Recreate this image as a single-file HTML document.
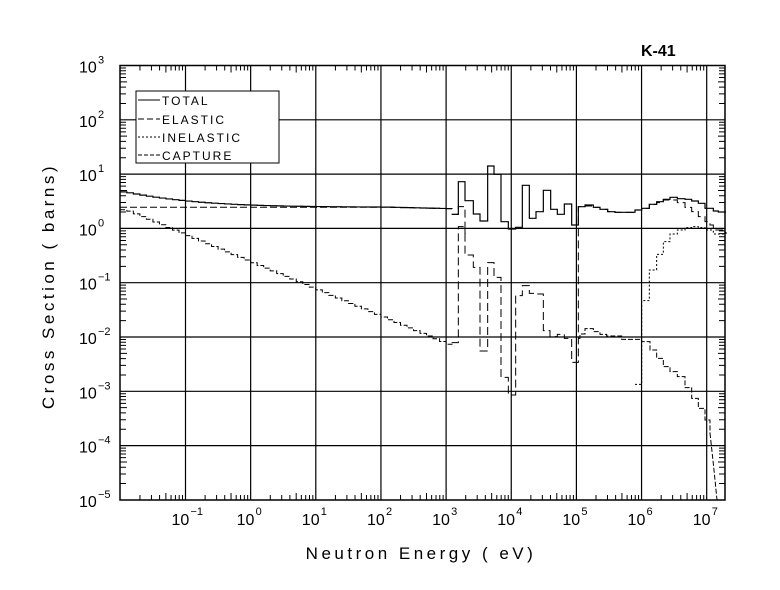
<!DOCTYPE html>
<html><head><meta charset="utf-8"><style>
html,body{margin:0;padding:0;background:#fff;}
svg{display:block;}
text{font-family:"Liberation Sans",sans-serif;fill:#000;}
</style></head><body>
<svg id="s" width="780" height="590" viewBox="0 0 780 590" xmlns="http://www.w3.org/2000/svg">
<rect width="780" height="590" fill="#fff"/>
<text x="641" y="56" font-size="16" font-weight="bold">K-41</text>
<text transform="translate(54 286) rotate(-90)" text-anchor="middle" font-size="17" letter-spacing="3.5" font-weight="300">Cross Section ( barns)</text>
<text x="421" y="559" text-anchor="middle" font-size="17" letter-spacing="3.5">Neutron Energy ( eV)</text>
<g id="g"></g>
<rect x="136" y="91" width="143" height="72" fill="#fff" stroke="#000" stroke-width="1"/>
<line x1="138" y1="100" x2="160" y2="100" stroke="#000"/>
<line x1="138" y1="119" x2="160" y2="119" stroke="#000" stroke-dasharray="6,3"/>
<line x1="138" y1="137" x2="160" y2="137" stroke="#000" stroke-dasharray="2,2"/>
<line x1="138" y1="155" x2="160" y2="155" stroke="#000" stroke-dasharray="4,2"/>
<text x="162" y="105" font-size="12" letter-spacing="2">TOTAL</text>
<text x="162" y="124" font-size="12" letter-spacing="2">ELASTIC</text>
<text x="162" y="142" font-size="12" letter-spacing="2">INELASTIC</text>
<text x="162" y="160" font-size="12" letter-spacing="2">CAPTURE</text>
</svg>
<script>
var NS="http://www.w3.org/2000/svg",g=document.getElementById('g');
function el(t,a,txt){var e=document.createElementNS(NS,t);for(var k in a)e.setAttribute(k,a[k]);if(txt!==undefined)e.textContent=txt;g.appendChild(e);return e;}
var L=120,R=725,T=65.5,B=500,DX=65.15,DY=54.3;
function X(le){return 185.5+(le+1)*DX;}
function Y(ls){return T+(3-ls)*DY;}
var h='';
// grid
for(var d=-1;d<=7;d++){h+='M'+X(d)+' '+T+'V'+B;}
for(var d=-4;d<=2;d++){h+='M'+L+' '+Y(d)+'H'+R;}
el('path',{d:h,stroke:'#000','stroke-width':1.2,fill:'none'});
el('rect',{x:L,y:T,width:R-L,height:B-T,fill:'none',stroke:'#000','stroke-width':1.5});
// minor ticks
h='';
for(var d=-2;d<=7;d++)for(var m=1;m<=9;m++){var le=d+Math.log10(m);var x=X(le);if(x<=L||x>=R)continue;var len=(m==1)?0:(m==5?7:5);if(m==1)continue;
h+='M'+x+' '+B+'v-'+len+'M'+x+' '+T+'v'+len;}
for(var d=-5;d<=2;d++)for(var m=2;m<=9;m++){var y=Y(d+Math.log10(m));var len=(m==5?7:6);h+='M'+L+' '+y+'h'+len+'M'+R+' '+y+'h-'+len;}
el('path',{d:h,stroke:'#000','stroke-width':1,fill:'none'});
// labels
for(var d=-1;d<=7;d++){var x=X(d);el('text',{x:x-14,y:525,'font-size':16},'10');el('text',{x:x+5,y:515,'font-size':11},''+(d<0?'\u2212'+(-d):d));}
for(var d=-5;d<=3;d++){var y=Y(d);el('text',{x:79,y:y+7,'font-size':16},'10');el('text',{x:98,y:y-2,'font-size':11},''+(d<0?'\u2212'+(-d):d));}
// low-energy curves
var tot='',ela='',cap='';
var pts=[];for(var le=-2;le<=3.2;le+=0.1)pts.push(le);
tot='M'+L+' '+Y(Math.log10(2.5+2.2*Math.pow(10,-0.5*(-2+2))));
ela='M'+L+' '+Y(Math.log10(2.45));
cap='M'+L+' '+Y(Math.log10(2.2));
for(var i=0;i<pts.length-1;i++){var le=pts[i]+0.05;var x1=Math.min(X(pts[i+1]),452);
var c=2.2*Math.pow(10,-0.5*(le+2));var e=2.45-0.002*(le+2)*0+(le>2?-0.15*(le-2):0);
tot+='H'+x1+'V'+Y(Math.log10(e+c));ela+='H'+x1+'V'+Y(Math.log10(e));cap+='H'+x1+'V'+Y(Math.log10(c));if(x1>=452)break;}
el('path',{d:tot,stroke:'#000',fill:'none','stroke-width':1.2});
el('path',{d:ela,stroke:'#000',fill:'none','stroke-width':1,'stroke-dasharray':'7,3'});
el('path',{d:cap,stroke:'#000',fill:'none','stroke-width':1,'stroke-dasharray':'5,2'});
// zoom-coord paths
function zp(arr,dash,w){var s='M'+(420+arr[0][0]/3)+' '+(150+arr[0][1]/3);for(var i=1;i<arr.length;i++){s+='H'+(420+arr[i][0]/3)+'V'+(150+arr[i][1]/3);}var a={d:s,stroke:'#000',fill:'none','stroke-width':w||1.2};if(dash)a['stroke-dasharray']=dash;el('path',a);}
zp([[95,193],[115,193],[115,95],[135,95],[135,152],[160,152],[160,192],[180,192],[180,213],[203,213],[203,48],[222,48],[222,73],[243,73],[243,215],[265,215],[265,237],[287,237],[287,232],[307,232],[307,106],[328,106],[328,205],[348,205],[348,185],[370,185],[370,121],[392,121],[392,178],[412,178],[412,193],[433,193],[433,162],[455,162],[455,225],[475,225],[475,170],[495,170],[495,165],[520,165],[520,172],[540,172],[540,178],[563,178],[563,185],[585,185],[585,187],[645,187],[645,180],[665,180],[665,175],[688,175],[688,163],[710,163],[710,155],[730,155],[730,148],[750,148],[750,142],[772,142],[772,146],[795,146],[795,148],[815,148],[815,153],[835,153],[835,160],[855,160],[855,175],[880,175],[880,183],[895,183],[895,186],[918,186]]);
zp([[95,193],[115,193],[115,170],[135,170],[135,315],[160,315],[160,352],[180,352],[180,603],[203,603],[203,338],[222,338],[222,382],[243,382],[243,682],[265,682],[265,735],[287,735],[287,437],[307,437],[307,407],[328,407],[328,430],[348,430],[348,432],[370,432],[370,542],[390,542],[390,560],[412,560],[412,553],[433,553],[433,565],[455,565],[455,637],[475,637],[475,170],[495,168],[520,172],[540,178],[563,185],[585,187],[645,187],[645,180],[665,180],[665,175],[688,175],[688,163],[710,163],[710,158],[730,158],[730,150],[750,150],[750,150],[772,150],[772,158],[795,158],[795,172],[815,172],[815,185],[835,185],[835,200],[855,200],[855,215],[870,215],[870,225],[880,225],[880,240],[918,240]],'8,4',1);
zp([[95,578],[115,578],[115,230],[135,230],[135,250],[137,250]],'8,4',1);
zp([[475,565],[480,565],[480,552],[495,552],[495,536],[520,536],[520,545],[540,545],[540,553],[560,553],[560,558],[605,558],[605,568],[665,568],[665,575],[690,575],[690,600],[710,600],[710,625],[730,625],[730,650],[750,650],[750,665],[772,665],[772,680],[795,680],[795,713],[815,713],[815,745],[835,745],[835,775],[855,775],[855,810],[870,810],[870,850]],'5,2',1);
zp([[645,703],[665,703],[665,452],[688,452],[688,360],[710,360],[710,313],[730,313],[730,275],[750,275],[750,252],[772,252],[772,240],[795,240],[795,233],[815,233],[815,230],[835,230],[835,233],[855,233],[855,240],[880,240],[880,252],[918,245]],'2,2',1);
el('path',{d:'M710 433 L714 470 L717 500',stroke:'#000',fill:'none','stroke-width':1,'stroke-dasharray':'5,2'});
</script>
</body></html>
